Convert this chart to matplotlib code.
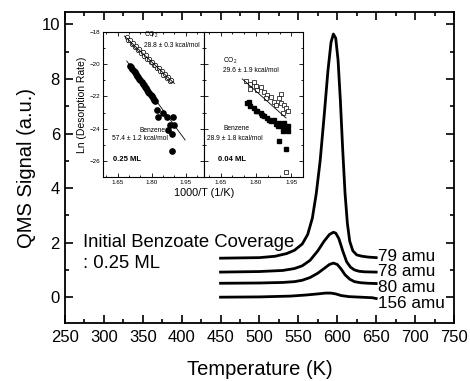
import matplotlib
matplotlib.use("Agg")
import matplotlib.pyplot as plt
from matplotlib.ticker import MultipleLocator

plt.rcParams["font.family"] = ["Liberation Sans", "DejaVu Sans"]
plt.rcParams["mathtext.fontset"] = "custom"
plt.rcParams["mathtext.rm"] = "Liberation Sans"

# --- main TPD traces (temperature in K, signal in a.u.) ---
T79 = [450, 500, 520, 535, 545, 555, 562, 568, 573, 578, 583, 588, 592, 595, 598,
       601, 604, 607, 610, 613, 616, 620, 625, 632, 640, 650]
S79 = [1.43, 1.45, 1.5, 1.6, 1.72, 1.95, 2.3, 2.9, 3.8, 5.0, 6.6, 8.3, 9.35, 9.65, 9.5,
       8.7, 7.2, 5.4, 3.8, 2.7, 2.05, 1.7, 1.55, 1.5, 1.47, 1.45]
T78 = [450, 500, 530, 545, 555, 565, 575, 583, 590, 595, 598, 602, 607, 612, 617,
       622, 628, 635, 650]
S78 = [0.92, 0.94, 0.98, 1.05, 1.15, 1.35, 1.7, 2.05, 2.3, 2.38, 2.35, 2.15, 1.7, 1.3, 1.1,
       1.0, 0.95, 0.93, 0.92]
T80 = [450, 500, 530, 545, 555, 565, 575, 583, 590, 595, 600, 605, 610, 616, 622,
       630, 640, 650]
S80 = [0.51, 0.52, 0.54, 0.57, 0.62, 0.72, 0.88, 1.05, 1.2, 1.25, 1.2, 1.03, 0.82, 0.66, 0.57,
       0.53, 0.51, 0.5]
T156 = [450, 500, 540, 560, 575, 585, 592, 598, 605, 615, 630, 645, 650]
S156 = [0.0, 0.01, 0.04, 0.08, 0.12, 0.15, 0.15, 0.12, 0.06, 0.02, 0.0, -0.02, -0.05]

traces = [(T79, S79), (T78, S78), (T80, S80), (T156, S156)]
mass_labels = ["79 amu", "78 amu", "80 amu", "156 amu"]
label_y = [1.5, 0.93, 0.36, -0.22]

# --- inset: Arrhenius plots, 0.25 ML ---
co2_a_x = [1.690, 1.697, 1.704, 1.711, 1.718, 1.725, 1.732, 1.739, 1.746, 1.753, 1.760,
           1.767, 1.774, 1.781, 1.788, 1.795, 1.802, 1.809, 1.816, 1.823, 1.830, 1.837,
           1.844, 1.851, 1.858, 1.865, 1.872, 1.879, 1.886]
co2_a_y = [-18.30, -18.52, -18.49, -18.72, -18.69, -18.91, -18.88, -19.10, -19.07, -19.30,
           -19.26, -19.49, -19.45, -19.68, -19.65, -19.87, -19.84, -20.07, -20.03, -20.26,
           -20.22, -20.45, -20.42, -20.64, -20.61, -20.84, -20.80, -21.03, -21.00]
bz_a_x = [1.705, 1.710, 1.715, 1.720, 1.725, 1.730, 1.735, 1.740, 1.745, 1.750, 1.755,
          1.760, 1.765, 1.770, 1.775, 1.780, 1.785, 1.790, 1.795, 1.800, 1.805, 1.810,
          1.814, 1.822, 1.850, 1.828, 1.866, 1.894, 1.880, 1.900, 1.872, 1.889, 1.888]
bz_a_y = [-20.1, -20.2, -20.3, -20.4, -20.5, -20.6, -20.7, -20.8, -20.9, -21.0, -21.1,
          -21.2, -21.3, -21.4, -21.5, -21.6, -21.7, -21.8, -21.9, -22.0, -22.1, -22.2,
          -22.3, -22.83, -23.0, -23.3, -23.3, -23.3, -23.8, -23.75, -24.1, -24.3, -25.4]
co2_a_fit = ([1.68, 1.90], [-18.25, -21.2])
bz_a_fit = ([1.69, 1.947], [-19.8, -24.7])

# --- inset: Arrhenius plots, 0.04 ML ---
co2_b_x = [1.756, 1.777, 1.799, 1.806, 1.820, 1.834, 1.849, 1.863, 1.841, 1.877, 1.899,
           1.906, 1.884, 1.920, 1.927, 1.913, 1.934, 1.906, 1.777, 1.791, 1.927]
co2_b_y = [-21.01, -21.21, -21.35, -21.62, -21.41, -21.72, -21.92, -22.02, -22.12, -22.32,
           -22.12, -22.42, -22.53, -22.53, -22.73, -23.03, -22.93, -21.82, -21.52, -21.11,
           -26.67]
bz_b_x = [1.763, 1.777, 1.791, 1.806, 1.820, 1.834, 1.849, 1.863, 1.877, 1.884, 1.899,
          1.906, 1.920, 1.934, 1.913, 1.934, 1.899, 1.927, 1.770, 1.799, 1.827, 1.856,
          1.892, 1.920]
bz_b_y = [-22.42, -22.62, -22.73, -22.93, -23.03, -23.23, -23.33, -23.53, -23.44, -23.74,
          -23.64, -23.84, -23.94, -23.84, -24.14, -24.14, -24.75, -25.25, -22.32, -22.93,
          -23.13, -23.44, -23.84, -23.64]
co2_b_fit = ([1.742, 1.927], [-20.91, -23.33])

fig = plt.figure(figsize=(4.7, 3.81), dpi=100)
ax = fig.add_axes([0.138, 0.152, 0.828, 0.816])

for (t, s), lab, ly in zip(traces, mass_labels, label_y):
    ax.plot(t, s, color="black", lw=2.0)
    ax.text(652, ly, lab, fontsize=12.3, ha="left", va="center")

ax.text(273, 2.0, "Initial Benzoate Coverage", fontsize=13.3, ha="left", va="center")
ax.text(273, 1.25, ": 0.25 ML", fontsize=13.3, ha="left", va="center")

ax.set_xlim(250, 750)
ax.set_ylim(-0.95, 10.45)
ax.xaxis.set_major_locator(MultipleLocator(50))
ax.xaxis.set_minor_locator(MultipleLocator(25))
ax.yaxis.set_major_locator(MultipleLocator(2))
ax.yaxis.set_minor_locator(MultipleLocator(1))
ax.tick_params(which="both", direction="in", top=True, right=True, labelsize=12, width=1.2)
ax.tick_params(which="major", length=6)
ax.tick_params(which="minor", length=3)
ax.tick_params(axis="x", pad=5)
for sp in ax.spines.values():
    sp.set_linewidth(1.3)
ax.set_xlabel("Temperature (K)", fontsize=14.5, labelpad=11)
ax.set_ylabel("QMS Signal (a.u.)", fontsize=14.5, labelpad=4)

# inset panels
ins_a = fig.add_axes([0.219, 0.5354, 0.215, 0.3806])
ins_b = fig.add_axes([0.434, 0.5354, 0.211, 0.3806], sharey=ins_a)
for ia in (ins_a, ins_b):
    ia.set_xlim(1.585, 2.03)
    ia.set_ylim(-27, -18)
    ia.xaxis.set_major_locator(MultipleLocator(0.15))
    ia.xaxis.set_minor_locator(MultipleLocator(0.05))
    ia.yaxis.set_major_locator(MultipleLocator(2))
    ia.yaxis.set_minor_locator(MultipleLocator(1))
    ia.tick_params(which="both", direction="in", top=True, right=True, labelsize=4.5,
                   width=0.6, pad=2)
    ia.tick_params(which="major", length=3)
    ia.tick_params(which="minor", length=1.5)
    for sp in ia.spines.values():
        sp.set_linewidth(0.8)
    ia.set_xticks([1.65, 1.80, 1.95])
    ia.set_xticklabels(["1.65", "1.80", "1.95"])
ins_b.set_xlim(1.58, 2.0)
ins_b.tick_params(labelleft=False)

ins_a.plot(co2_a_x, co2_a_y, "o", ms=3.2, mfc="white", mec="black", mew=0.5)
ins_a.plot(*co2_a_fit, color="black", lw=0.6)
ins_a.plot(bz_a_x, bz_a_y, "o", ms=3.8, color="black")
ins_a.plot(*bz_a_fit, color="black", lw=0.6)
ins_a.text(1.768, -18.18, "CO$_2$", fontsize=4.8, va="center")
ins_a.text(1.768, -18.85, "28.8 \u00b1 0.3 kcal/mol", fontsize=4.8, va="center")
ins_a.text(1.748, -24.1, "Benzene", fontsize=4.8, va="center")
ins_a.text(1.623, -24.62, "57.4 \u00b1 1.2 kcal/mol", fontsize=4.8, va="center")
ins_a.text(1.629, -25.94, "0.25 ML", fontsize=5.5, va="center", fontweight="bold")
ins_a.set_ylabel("Ln (Desorption Rate)", fontsize=7.5, labelpad=2)

ins_b.plot(co2_b_x, co2_b_y, "s", ms=3.2, mfc="white", mec="black", mew=0.5)
ins_b.plot(*co2_b_fit, color="black", lw=0.6)
ins_b.plot(bz_b_x, bz_b_y, "s", ms=3.2, color="black")
ins_b.text(1.661, -19.82, "CO$_2$", fontsize=4.8, va="center")
ins_b.text(1.661, -20.4, "29.6 \u00b1 1.9 kcal/mol", fontsize=4.8, va="center")
ins_b.text(1.663, -24.0, "Benzene", fontsize=4.8, va="center")
ins_b.text(1.592, -24.6, "28.9 \u00b1 1.8 kcal/mol", fontsize=4.8, va="center")
ins_b.text(1.641, -25.94, "0.04 ML", fontsize=5.5, va="center", fontweight="bold")

fig.text(0.434, 0.493, "1000/T (1/K)", fontsize=7.8, ha="center", va="center")

fig.savefig("out.png", dpi=100)
